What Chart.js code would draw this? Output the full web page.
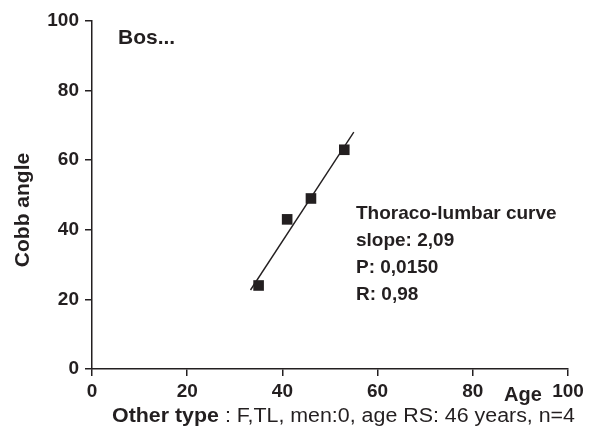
<!DOCTYPE html>
<html>
<head>
<meta charset="utf-8">
<script src="https://cdn.jsdelivr.net/npm/chart.js@4/dist/chart.umd.min.js"></script>
<style>
  html, body { margin: 0; padding: 0; background: #fff; }
  #wrap { width: 589px; height: 435px; }
</style>
</head>
<body>
<div id="wrap"><canvas id="myChart" width="589" height="435"></canvas></div>
<script>
// Measured points (age, Cobb angle)
const ages = [35, 41, 46, 53];
const cobbAngles = [24, 43, 49, 63];

// Regression line end points
const fitAges = [33.3, 55];
const fitAngles = [22.7, 68.1];

const xTicks = [0, 20, 40, 60, 80, 100];
const yTicks = [0, 20, 40, 60, 80, 100];

const statLines = ["Thoraco-lumbar curve", "slope: 2,09", "P: 0,0150", "R: 0,98"];
const panelLabel = "Bos...";
const captionBold = "Other type";
const captionRest = " : F,TL, men:0, age RS: 46 years, n=4";

const ink = "#231f20";
const fontFamily = "'Liberation Sans', Arial, sans-serif";

// Texts that are not part of chart.js axes
const textPlugin = {
  id: "textPlugin",
  afterDraw(chart) {
    const ctx = chart.ctx;
    ctx.save();
    ctx.fillStyle = ink;
    ctx.textBaseline = "middle";
    ctx.textAlign = "left";

    // panel label
    ctx.font = "bold 21px " + fontFamily;
    ctx.fillText(panelLabel, 118, 38);

    // regression stats
    ctx.font = "bold 19px " + fontFamily;
    statLines.forEach((line, i) => {
      ctx.fillText(line, 356, 214 + i * 27);
    });

    // x axis title, off to the right
    ctx.font = "bold 20px " + fontFamily;
    ctx.fillText("Age", 504, 395);

    // y axis title
    ctx.save();
    ctx.translate(23, 210);
    ctx.rotate(-Math.PI / 2);
    ctx.textAlign = "center";
    ctx.font = "bold 21px " + fontFamily;
    ctx.fillText("Cobb angle", 0, 0);
    ctx.restore();

    // caption, bold part then normal part, stretched to the reference width
    ctx.font = "bold 20px " + fontFamily;
    const w1 = ctx.measureText(captionBold).width;
    ctx.font = "20px " + fontFamily;
    const w2 = ctx.measureText(captionRest).width;
    const sx = 463 / (w1 + w2);
    ctx.save();
    ctx.translate(112, 416);
    ctx.scale(sx, 1);
    ctx.font = "bold 20px " + fontFamily;
    ctx.fillText(captionBold, 0, 0);
    ctx.font = "20px " + fontFamily;
    ctx.fillText(captionRest, w1, 0);
    ctx.restore();

    ctx.restore();
  },
};

const ctx = document.getElementById("myChart");

const chartData = {
  datasets: [
    {
      type: "scatter",
      label: "Cobb angle",
      data: ages.map((a, i) => ({ x: a, y: cobbAngles[i] })),
      pointStyle: "rect",
      pointRadius: 7.5,
      pointHoverRadius: 7.5,
      backgroundColor: ink,
      borderColor: ink,
      borderWidth: 0,
    },
    {
      type: "line",
      label: "Fit",
      data: fitAges.map((a, i) => ({ x: a, y: fitAngles[i] })),
      borderColor: ink,
      borderWidth: 1.4,
      pointRadius: 0,
      fill: false,
    },
  ],
};

const options = {
  responsive: false,
  animation: false,
  layout: {
    padding: { top: 21, right: 21, left: 0, bottom: 0 },
  },
  plugins: {
    legend: { display: false },
    tooltip: { enabled: false },
  },
  scales: {
    x: {
      type: "linear",
      min: 0,
      max: 100,
      afterBuildTicks: (scale) => {
        scale.ticks = xTicks.map((v) => ({ value: v }));
      },
      afterFit: (scale) => {
        scale.height = 66;
      },
      ticks: {
        color: ink,
        padding: 4,
        font: { family: fontFamily, size: 19, weight: "bold" },
      },
      grid: {
        drawOnChartArea: false,
        drawTicks: true,
        tickLength: 7,
        color: ink,
        lineWidth: 1.5,
      },
      border: { color: ink, width: 1.5 },
    },
    y: {
      type: "linear",
      min: 0,
      max: 100,
      afterBuildTicks: (scale) => {
        scale.ticks = yTicks.map((v) => ({ value: v }));
      },
      afterFit: (scale) => {
        scale.width = 92;
      },
      ticks: {
        color: ink,
        padding: 6,
        font: { family: fontFamily, size: 19, weight: "bold" },
      },
      grid: {
        drawOnChartArea: false,
        drawTicks: true,
        tickLength: 7,
        color: ink,
        lineWidth: 1.5,
      },
      border: { color: ink, width: 1.5 },
    },
  },
};

new Chart(ctx, {
  data: chartData,
  options: options,
  plugins: [textPlugin],
});
</script>
</body>
</html>
